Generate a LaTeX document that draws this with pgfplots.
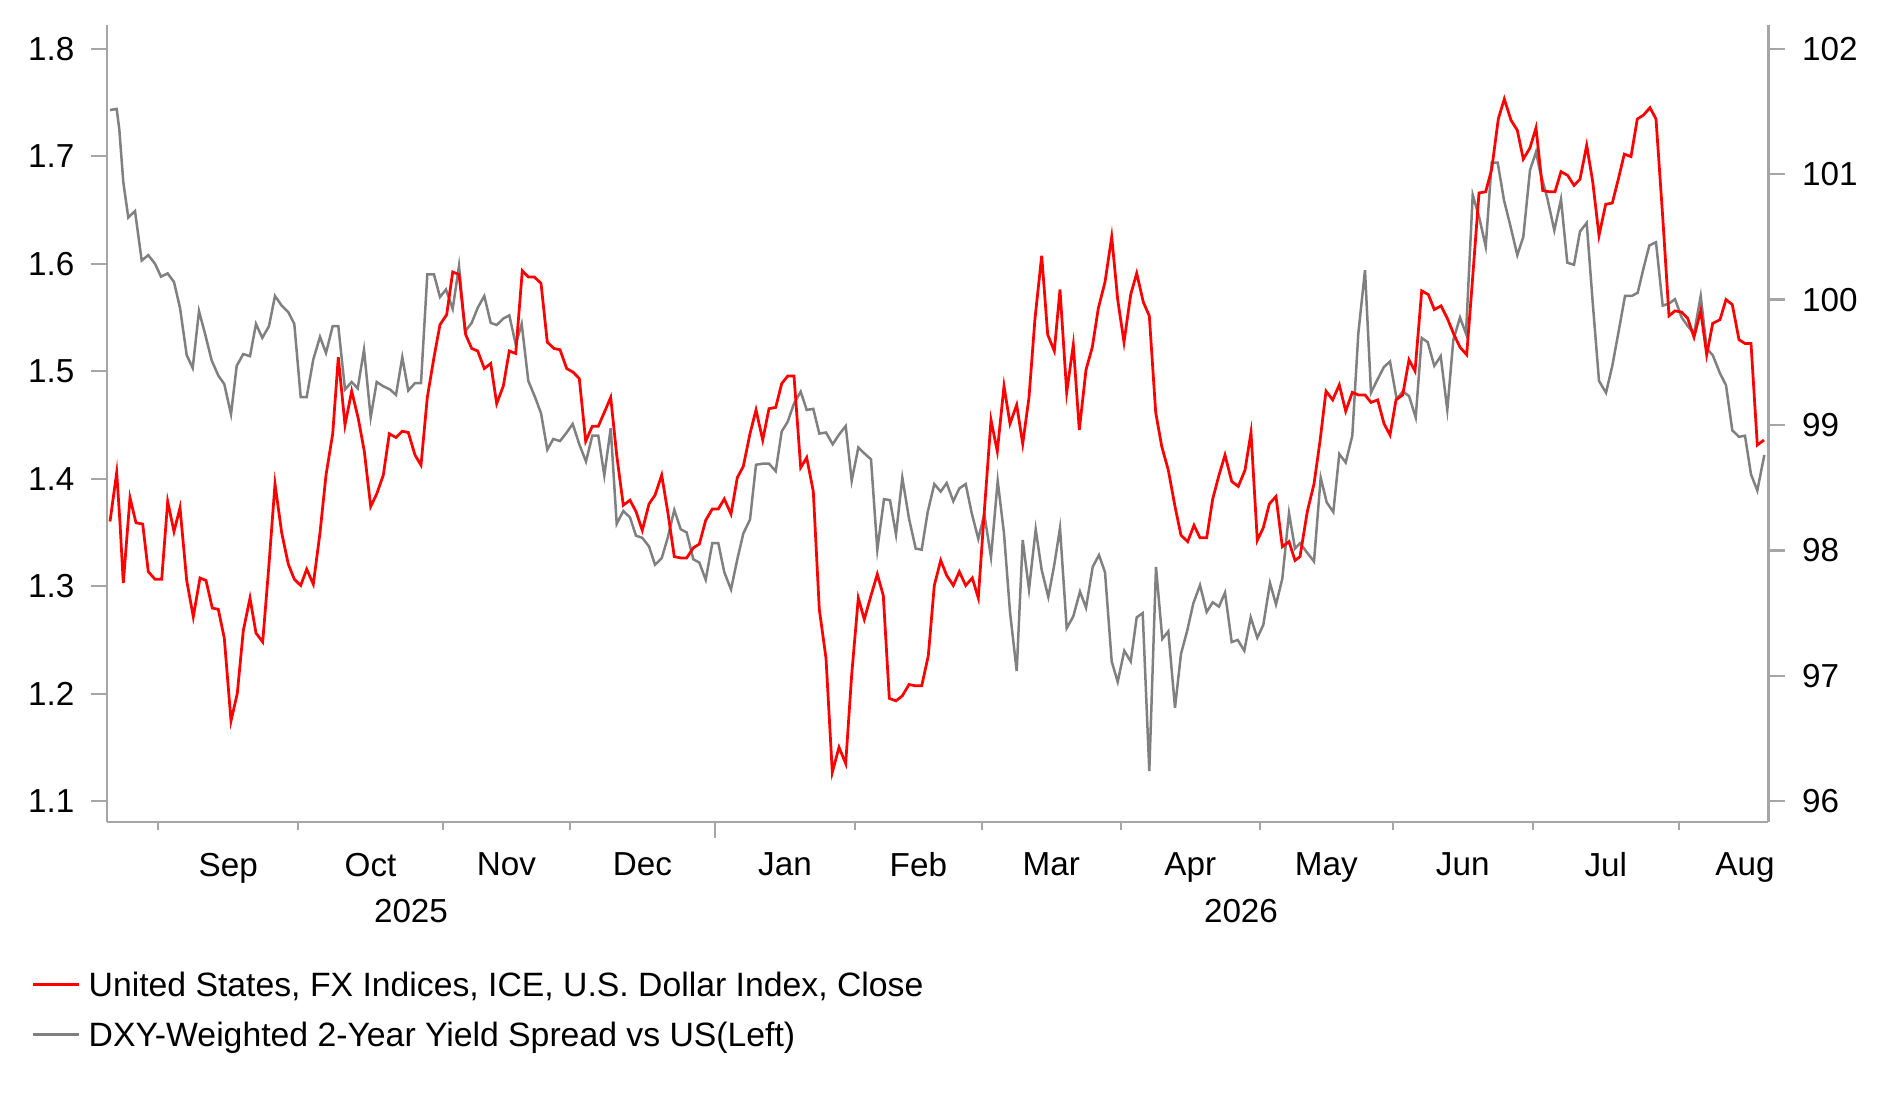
\documentclass[border=0pt]{standalone}
\usepackage{fontspec}
\setmainfont{Liberation Sans}
\usepackage{pgfplots}
\usepackage{pgfplotstable}
\pgfplotsset{compat=1.18}
\definecolor{axisgray}{RGB}{166,166,166}
\definecolor{seriesgray}{RGB}{128,128,128}
\definecolor{seriesred}{RGB}{255,0,0}

\pgfplotstableread{
x y
110.0 1.743
116.7 1.744
119.3 1.725
123.3 1.676
128.3 1.643
135.0 1.649
141.7 1.603
148.3 1.608
155.0 1.600
161.0 1.588
167.7 1.591
174.0 1.583
180.0 1.559
186.7 1.515
192.7 1.503
199.0 1.556
205.0 1.535
211.7 1.510
218.3 1.496
224.3 1.488
231.0 1.460
236.7 1.505
243.3 1.516
250.0 1.514
256.0 1.544
262.3 1.531
269.0 1.542
275.0 1.570
281.7 1.561
288.3 1.555
294.3 1.544
300.7 1.476
306.7 1.476
313.3 1.511
320.0 1.532
326.0 1.517
332.7 1.542
338.3 1.542
345.0 1.483
351.7 1.490
357.7 1.484
364.0 1.520
370.7 1.457
376.7 1.490
383.3 1.486
390.0 1.483
396.0 1.478
402.3 1.513
408.3 1.482
415.0 1.489
421.0 1.489
427.3 1.590
434.0 1.590
440.0 1.569
446.0 1.576
452.7 1.558
459.0 1.598
465.0 1.537
471.7 1.545
477.7 1.559
484.3 1.570
490.7 1.545
496.7 1.543
503.3 1.549
509.3 1.552
515.7 1.525
521.7 1.544
528.3 1.491
535.0 1.476
541.0 1.461
547.3 1.427
553.3 1.437
560.0 1.435
566.7 1.443
572.7 1.451
579.3 1.432
586.0 1.416
592.3 1.440
598.3 1.440
604.3 1.403
610.7 1.447
616.7 1.358
623.3 1.370
630.0 1.364
636.0 1.347
642.3 1.345
649.0 1.337
655.0 1.320
661.7 1.326
667.7 1.345
674.3 1.371
680.7 1.353
686.7 1.350
693.3 1.325
699.3 1.322
705.7 1.306
712.3 1.340
718.3 1.340
724.3 1.313
731.0 1.297
737.3 1.325
743.3 1.349
750.0 1.362
756.0 1.413
762.7 1.414
769.0 1.414
775.7 1.407
781.7 1.444
787.7 1.453
794.0 1.470
800.7 1.481
806.7 1.464
813.3 1.465
819.3 1.442
826.0 1.443
832.7 1.432
839.0 1.441
845.7 1.449
851.7 1.398
858.3 1.429
865.0 1.423
871.0 1.418
877.3 1.334
884.0 1.381
890.0 1.380
896.0 1.348
902.3 1.401
909.0 1.363
915.7 1.335
921.7 1.334
927.7 1.369
934.3 1.395
940.7 1.388
946.7 1.396
953.3 1.379
959.3 1.391
965.7 1.395
971.7 1.368
978.3 1.344
984.3 1.367
991.0 1.327
997.7 1.398
1004.0 1.349
1010.0 1.276
1016.7 1.221
1022.7 1.343
1029.0 1.297
1035.7 1.353
1041.7 1.315
1048.3 1.290
1054.3 1.320
1060.0 1.354
1066.7 1.261
1073.3 1.272
1080.0 1.295
1086.0 1.280
1092.7 1.318
1099.0 1.329
1105.0 1.313
1111.7 1.230
1117.7 1.211
1124.3 1.240
1130.7 1.230
1136.7 1.271
1142.7 1.275
1149.3 1.128
1156.0 1.318
1162.3 1.251
1168.3 1.258
1175.0 1.187
1181.0 1.237
1187.3 1.259
1193.3 1.284
1200.0 1.301
1206.7 1.276
1212.7 1.285
1219.0 1.281
1225.0 1.294
1231.7 1.248
1237.7 1.250
1244.3 1.240
1250.7 1.271
1257.3 1.252
1263.3 1.264
1270.0 1.303
1276.0 1.283
1282.3 1.307
1289.0 1.368
1295.0 1.335
1300.0 1.340
1307.3 1.331
1314.0 1.323
1320.7 1.401
1326.7 1.378
1333.3 1.369
1339.3 1.423
1345.7 1.415
1352.3 1.440
1358.3 1.535
1365.0 1.594
1371.0 1.480
1377.3 1.492
1384.0 1.504
1390.0 1.509
1396.7 1.474
1402.7 1.481
1409.0 1.477
1415.7 1.457
1421.7 1.531
1427.7 1.527
1434.3 1.505
1440.7 1.514
1447.3 1.464
1453.3 1.529
1460.0 1.550
1466.0 1.535
1472.7 1.664
1479.0 1.644
1485.7 1.616
1491.7 1.694
1497.7 1.694
1504.0 1.659
1510.7 1.634
1517.3 1.608
1523.3 1.625
1530.0 1.687
1536.0 1.704
1540.0 1.686
1547.3 1.661
1554.3 1.631
1561.0 1.660
1567.3 1.601
1574.0 1.599
1580.0 1.630
1586.7 1.638
1592.7 1.564
1599.0 1.491
1606.0 1.480
1612.3 1.505
1619.0 1.539
1625.0 1.570
1631.7 1.570
1637.7 1.573
1643.3 1.595
1649.3 1.617
1656.0 1.620
1662.7 1.561
1669.0 1.563
1675.0 1.567
1681.7 1.550
1687.7 1.542
1694.0 1.535
1700.7 1.570
1706.7 1.521
1712.7 1.515
1720.0 1.498
1726.0 1.487
1732.3 1.445
1739.0 1.439
1745.0 1.440
1751.0 1.404
1757.3 1.389
1764.3 1.422
}\spreadtable

\pgfplotstableread{
x y
110.0 98.23
116.7 98.62
120.0 98.22
123.3 97.74
130.0 98.42
136.0 98.22
142.7 98.21
148.3 97.83
155.0 97.77
161.7 97.77
167.7 98.39
174.0 98.15
180.0 98.34
186.7 97.76
193.3 97.47
200.0 97.78
206.0 97.76
212.3 97.54
218.3 97.53
224.3 97.30
231.0 96.64
237.3 96.86
243.3 97.36
250.0 97.62
256.0 97.34
262.7 97.27
269.0 97.89
275.0 98.53
281.7 98.14
288.3 97.89
294.3 97.77
300.7 97.72
306.7 97.85
313.3 97.73
320.0 98.14
326.0 98.60
332.7 98.93
338.3 99.54
345.0 99.00
351.7 99.27
358.3 99.05
364.3 98.79
370.7 98.35
376.7 98.45
383.3 98.60
389.3 98.93
396.0 98.90
402.3 98.95
408.3 98.94
415.0 98.76
421.0 98.68
427.3 99.22
434.0 99.54
440.0 99.80
446.7 99.88
452.7 100.22
459.0 100.20
465.7 99.72
471.7 99.61
477.7 99.59
484.3 99.45
490.7 99.49
496.7 99.17
503.3 99.31
509.3 99.59
515.7 99.57
522.3 100.23
528.3 100.18
534.3 100.18
541.0 100.13
547.3 99.66
554.0 99.61
560.0 99.60
566.7 99.45
573.3 99.42
579.3 99.37
585.7 98.87
592.3 98.99
598.3 98.99
604.3 99.10
610.7 99.22
616.7 98.76
623.3 98.36
630.0 98.40
636.0 98.31
642.3 98.16
649.0 98.37
655.0 98.44
661.7 98.60
667.7 98.31
674.3 97.95
680.7 97.94
686.7 97.94
693.3 98.02
699.3 98.05
705.7 98.24
712.3 98.33
718.3 98.33
724.3 98.41
731.0 98.29
737.3 98.58
743.3 98.67
750.0 98.93
756.0 99.12
762.7 98.88
769.0 99.13
775.7 99.14
781.7 99.33
787.7 99.39
794.0 99.39
800.7 98.66
806.7 98.74
813.3 98.47
819.3 97.53
826.0 97.14
832.3 96.23
839.0 96.43
845.7 96.30
851.7 97.01
858.3 97.62
864.3 97.45
871.0 97.64
877.3 97.81
883.3 97.64
889.3 96.82
896.0 96.80
902.3 96.84
909.0 96.93
915.7 96.92
921.7 96.92
928.3 97.16
934.3 97.72
940.7 97.92
946.7 97.80
953.3 97.72
959.3 97.83
965.7 97.72
972.3 97.78
978.3 97.62
984.3 98.31
991.0 99.04
997.3 98.79
1004.0 99.31
1010.0 99.01
1016.7 99.16
1022.7 98.85
1029.0 99.22
1035.0 99.85
1041.7 100.35
1047.7 99.72
1054.3 99.59
1060.0 100.08
1066.7 99.26
1073.3 99.64
1079.3 98.96
1086.0 99.44
1092.3 99.62
1098.3 99.93
1105.0 100.14
1111.7 100.50
1117.7 100.00
1124.0 99.66
1130.7 100.04
1136.7 100.21
1143.3 99.98
1149.3 99.87
1155.7 99.10
1161.7 98.83
1168.3 98.64
1175.0 98.35
1181.0 98.12
1187.7 98.07
1194.0 98.20
1200.0 98.10
1206.7 98.10
1212.7 98.41
1219.0 98.60
1225.0 98.76
1231.7 98.55
1238.3 98.51
1245.0 98.64
1251.0 98.94
1257.3 98.08
1263.3 98.18
1269.3 98.37
1276.0 98.43
1282.3 98.03
1289.0 98.07
1295.0 97.92
1300.0 97.95
1307.3 98.31
1314.0 98.53
1320.0 98.87
1326.0 99.27
1332.7 99.20
1339.3 99.32
1345.7 99.11
1352.3 99.26
1358.3 99.24
1365.0 99.24
1371.0 99.18
1377.7 99.20
1384.0 99.01
1390.0 98.92
1396.0 99.20
1402.7 99.24
1409.0 99.52
1415.0 99.43
1421.7 100.07
1428.3 100.04
1434.3 99.92
1441.0 99.95
1447.3 99.85
1454.0 99.72
1460.0 99.62
1466.7 99.56
1472.7 100.18
1479.0 100.85
1485.7 100.86
1491.7 101.04
1498.3 101.44
1504.3 101.60
1511.0 101.43
1517.3 101.35
1523.3 101.12
1530.0 101.21
1536.0 101.37
1542.7 100.87
1549.0 100.86
1555.0 100.86
1561.0 101.02
1567.7 100.99
1574.0 100.91
1580.0 100.96
1586.7 101.23
1592.7 100.94
1599.0 100.51
1605.7 100.76
1612.3 100.77
1618.3 100.96
1624.3 101.16
1631.0 101.14
1637.3 101.44
1643.3 101.47
1650.0 101.53
1656.0 101.44
1662.7 100.66
1669.0 99.87
1675.0 99.91
1681.7 99.90
1687.7 99.85
1694.0 99.70
1700.7 99.91
1706.7 99.56
1712.7 99.81
1720.0 99.84
1726.0 100.00
1732.3 99.96
1739.0 99.68
1745.0 99.65
1751.0 99.65
1757.3 98.84
1764.0 98.88
}\dxytable

\pgfplotsset{
  common/.style={
    scale only axis, width=664.64pt, height=318.8pt,
    at={(42.68pt,111.6pt)}, anchor=south west,
    xmin=106.7, xmax=1768.3,
    axis line style={draw=axisgray, line width=0.95pt},
    tick style={draw=axisgray, line width=0.95pt},
    tick align=outside,
    ticklabel style={font=\fontsize{13.3}{15}\selectfont, text=black},
    /pgf/number format/assume math mode=true,
  }
}

\begin{document}
\begin{tikzpicture}
\useasboundingbox (0,0) rectangle (753.2pt,440.4pt);
\begin{axis}[common,
  axis y line*=left, axis x line*=bottom,
  ymin=1.08065, ymax=1.82214,
  ytick={1.1,1.2,1.3,1.4,1.5,1.6,1.7,1.8},
  yticklabels={1.1,1.2,1.3,1.4,1.5,1.6,1.7,1.8},
  yticklabel style={xshift=-3pt},
  major tick length=6.4pt, minor tick length=3.4pt,
  xtick={228.3,370.5,506.35,642.5,785,918.35,1051.2,1190.35,1326.35,1462.7,1605.85,1745},
  xticklabels={Sep,Oct,Nov,Dec,Jan,Feb,Mar,Apr,May,Jun,Jul,Aug},
  xticklabel style={yshift=-2.4pt},
  major x tick style={draw=none},
  minor xtick={158.3,298.3,442.7,570,855,981.7,1120.7,1260,1392.7,1532.7,1679},
]
\addplot[seriesgray, line width=1.0pt] table[x=x,y=y] {\spreadtable};
\end{axis}
\begin{axis}[common,
  axis y line*=right, axis x line*=bottom,
  ymin=95.8341, ymax=102.1898,
  ytick={96,97,98,99,100,101,102},
  yticklabel style={xshift=3.4pt},
  major tick length=6.6pt,
  xtick={715}, xticklabels={},
  extra x ticks={411,1241}, extra x tick labels={2025,2026},
  extra x tick style={major tick length=0pt, tick style={draw=none}, xticklabel style={yshift=-27.4pt}},
  legend style={at={(axis description cs:-0.045,-0.189)}, anchor=north west,
    draw=none, fill=none, inner sep=0pt, outer sep=0pt, row sep=7.4pt,
    font=\fontsize{13.5}{15}\selectfont,
    nodes={inner sep=0pt, text height=9.7pt, text depth=2.9pt},
    /tikz/every odd column/.append style={column sep=3.2pt}},
  legend cell align=left,
  legend image code/.code={\draw[#1] (0pt,1.4pt) -- (18.4pt,1.4pt);},
]
\addplot[seriesred, line width=1.1pt] table[x=x,y=y] {\dxytable};
\addlegendentry{United States, FX Indices, ICE, U.S. Dollar Index, Close}
\addlegendimage{seriesgray, line width=1.1pt}
\addlegendentry{DXY-Weighted 2-Year Yield Spread vs US(Left)}
\end{axis}
\end{tikzpicture}
\end{document}
